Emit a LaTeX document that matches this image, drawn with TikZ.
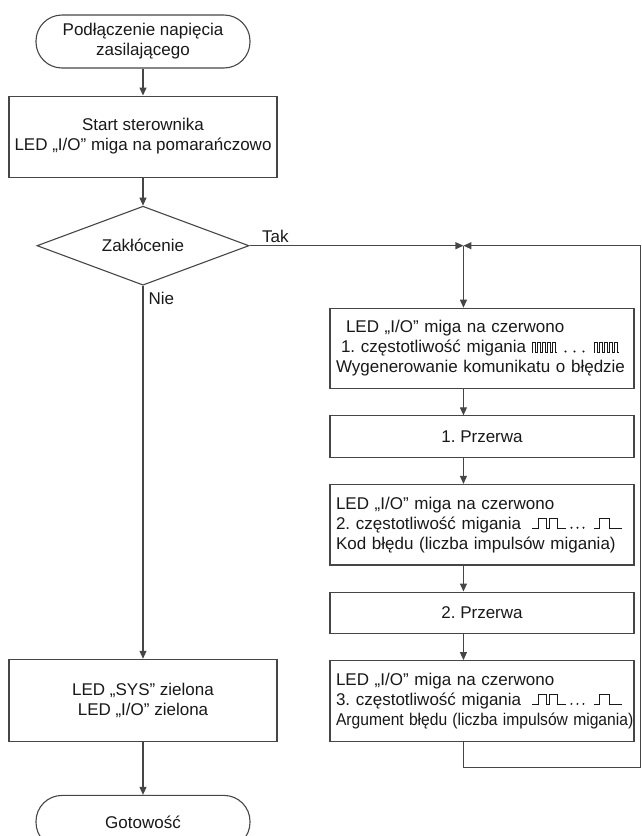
\documentclass[tikz,border=0pt]{standalone}
\usepackage{fontspec}
\usepackage{graphicx}
\setmainfont{Liberation Sans}
\usetikzlibrary{arrows.meta,positioning,calc,shapes.geometric}
\frenchspacing
\definecolor{fcline}{RGB}{70,70,70}
\definecolor{fctext}{RGB}{25,25,25}
\tikzset{
  fcbox/.style={
    draw=fcline, line width=1.1pt, fill=white, align=center,
    inner sep=4pt, font=\fontsize{17}{20}\selectfont, text=fctext
  },
  proc/.style={fcbox, minimum width=268pt, minimum height=81pt},
  term/.style={fcbox, rounded corners=26pt, minimum width=214pt, minimum height=53pt},
  dec/.style={fcbox, diamond, aspect=2.68, minimum width=212pt, minimum height=79pt, inner sep=0pt},
  errbox/.style={fcbox, align=left, text width=292pt, inner xsep=6pt, minimum height=80.5pt},
  pausebox/.style={fcbox, minimum width=304pt, minimum height=41.5pt},
  arr/.style={-{Triangle[length=8pt,width=7pt]}, draw=fcline, line width=1.1pt},
  lbl/.style={font=\fontsize{17}{20}\selectfont, text=fctext, inner sep=0pt},
  wave/.style={draw=fctext, line width=0.9pt, line join=miter}
}
% blink patterns drawn next to the frequency line of a box
\newcommand{\fastwave}[1]{%
  \draw[wave] ($(#1.west)+(203,-4)$) foreach \k in {1,...,5} {-- ++(0,10) -- ++(2.5,0) -- ++(0,-10) -- ++(2.5,0)};
  \foreach \d in {236,245,254} \fill[fctext] ($(#1.west)+(\d,-3)$) circle (1.1pt);
  \draw[wave] ($(#1.west)+(265,-4)$) foreach \k in {1,...,5} {-- ++(0,10) -- ++(2.5,0) -- ++(0,-10) -- ++(2.5,0)};
}
\newcommand{\slowwave}[1]{%
  \draw[wave] ($(#1.west)+(203,-4)$) -- ++(6,0) -- ++(0,10) -- ++(8,0) -- ++(0,-10) -- ++(3,0)
    -- ++(0,10) -- ++(8,0) -- ++(0,-10) -- ++(9,0);
  \foreach \d in {242,248,254} \fill[fctext] ($(#1.west)+(\d,-3)$) circle (1.1pt);
  \draw[wave] ($(#1.west)+(265,-4)$) -- ++(5,0) -- ++(0,10) -- ++(10,0) -- ++(0,-10) -- ++(13,0);
}

\begin{document}
\begin{tikzpicture}[x=1pt, y=1pt]
  \useasboundingbox (0,0) rectangle (641,-836);
  % main column
  \node[term] (power) at (143,-41.5) {Podłączenie napięcia\\zasilającego};
  \node[proc, below=27pt of power] (boot) {Start sterownika\\LED „I/O” miga na pomarańczowo};
  \node[dec, below=28pt of boot] (fault) {Zakłócenie};
  \node[proc, minimum height=82pt, below=373pt of fault] (ledok) {LED „SYS” zielona\\LED „I/O” zielona};
  \node[term, below=53pt of ledok] (ready) {Gotowość};
  % error loop
  \node[errbox] (err1) at (482,-348.5)
    {\hspace*{10pt}LED „I/O” miga na czerwono\\\hspace*{5pt}1. częstotliwość migania\\Wygenerowanie komunikatu o błędzie};
  \node[pausebox, below=26pt of err1] (brk1) {1. Przerwa};
  \node[errbox, below=26pt of brk1] (err2)
    {LED „I/O” miga na czerwono\\2. częstotliwość migania\\Kod błędu (liczba impulsów migania)};
  \node[pausebox, below=26pt of err2] (brk2) {2. Przerwa};
  \node[errbox, below=26pt of brk2] (err3)
    {LED „I/O” miga na czerwono\\3. częstotliwość migania\\\scalebox{0.92}[1]{Argument błędu (liczba impulsów migania)}};
  \coordinate (jn) at ($(fault.east -| err1.west)+(134,0)$);
  \coordinate (edge) at ($(fault.east -| err1.east)+(5.5,0)$);
  \fastwave{err1}
  \slowwave{err2}
  \slowwave{err3}
  % connectors
  \draw[arr] (power) -- (boot);
  \draw[arr] (boot) -- (fault);
  \draw[arr] (fault) -- (ledok) node[lbl, pos=0, anchor=north west, xshift=5pt, yshift=-6pt] {Nie};
  \draw[arr] (ledok) -- (ready);
  \draw[arr] (fault.east) -- (jn) node[lbl, pos=0, anchor=south west, xshift=12pt, yshift=2pt] {Tak};
  \draw[arr] (jn) -- (err1.north -| jn);
  \draw[arr] (err1.south -| jn) -- (brk1.north -| jn);
  \draw[arr] (brk1.south -| jn) -- (err2.north -| jn);
  \draw[arr] (err2.south -| jn) -- (brk2.north -| jn);
  \draw[arr] (brk2.south -| jn) -- (err3.north -| jn);
  \draw[arr] (err3.south -| jn) -- ++(0,-25.5) -| (edge) -- (jn);
\end{tikzpicture}
\end{document}
